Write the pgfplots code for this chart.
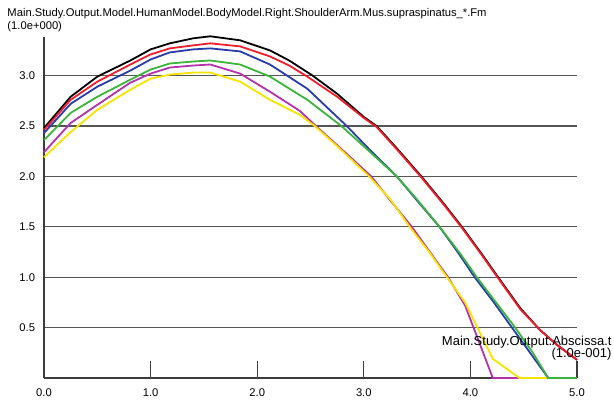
\documentclass[border=0pt]{standalone}
\usepackage{pgfplots}
\pgfplotsset{compat=1.18}
\usepackage{fontspec}
\setmainfont{Liberation Sans}

\definecolor{cblack}{RGB}{0,0,0}
\definecolor{cred}{RGB}{240,30,45}
\definecolor{cblue}{RGB}{40,60,170}
\definecolor{cgreen}{RGB}{60,180,60}
\definecolor{cmagenta}{RGB}{180,50,170}
\definecolor{cyellow}{RGB}{245,228,0}
\definecolor{gridcol}{RGB}{85,85,85}
\definecolor{axiscol}{RGB}{60,60,60}

\pgfplotstableread{
x y
0 2.48
0.25 2.79
0.5 2.99
0.81 3.15
1.0 3.26
1.18 3.32
1.4 3.37
1.56 3.39
1.84 3.35
2.12 3.25
2.3 3.15
2.52 3.00
2.75 2.82
3.0 2.59
3.12 2.50
3.3 2.29
3.54 2.00
3.75 1.73
3.92 1.50
4.1 1.24
4.26 1.00
4.47 0.69
4.65 0.48
4.81 0.33
5.0 0.18
}\tblack

\pgfplotstableread{
x y
0 2.46
0.25 2.76
0.5 2.94
0.81 3.11
1.0 3.21
1.18 3.27
1.4 3.30
1.56 3.32
1.84 3.29
2.12 3.19
2.3 3.10
2.47 2.99
2.75 2.79
3.0 2.58
3.12 2.49
3.3 2.28
3.54 1.99
3.75 1.72
3.92 1.49
4.1 1.23
4.26 0.99
4.47 0.68
4.65 0.48
4.81 0.33
5.0 0.18
}\tred

\pgfplotstableread{
x y
0 2.43
0.25 2.72
0.5 2.89
0.81 3.05
1.0 3.16
1.18 3.23
1.4 3.26
1.56 3.27
1.84 3.24
2.12 3.11
2.47 2.87
2.84 2.50
3.05 2.27
3.31 2.00
3.5 1.76
3.71 1.50
3.88 1.25
4.04 1.00
4.22 0.75
4.39 0.50
4.56 0.25
4.73 0
5.0 0
}\tblue

\pgfplotstableread{
x y
0 2.36
0.25 2.63
0.5 2.79
0.81 2.96
1.0 3.06
1.18 3.12
1.4 3.14
1.56 3.15
1.84 3.11
2.12 2.99
2.47 2.76
2.79 2.50
3.05 2.25
3.31 2.00
3.5 1.77
3.71 1.50
3.9 1.24
4.06 1.00
4.24 0.75
4.42 0.50
4.58 0.26
4.73 0
5.0 0
}\tgreen

\pgfplotstableread{
x y
0 2.24
0.25 2.53
0.5 2.71
0.81 2.93
1.0 3.02
1.18 3.08
1.4 3.10
1.56 3.11
1.84 3.02
2.12 2.84
2.40 2.65
2.55 2.50
2.75 2.31
3.07 2.00
3.25 1.76
3.45 1.50
3.62 1.25
3.79 1.00
3.95 0.72
4.21 0
5.0 0
}\tmagenta

\pgfplotstableread{
x y
0 2.19
0.25 2.44
0.5 2.66
0.81 2.86
1.0 2.97
1.18 3.01
1.4 3.03
1.56 3.03
1.84 2.94
2.12 2.76
2.40 2.61
2.54 2.50
2.75 2.30
3.05 2.00
3.25 1.77
3.43 1.50
3.62 1.24
3.78 1.00
3.95 0.75
4.21 0.19
4.46 0
5.0 0
}\tyellow

\begin{document}
\fontsize{11.2}{13}\selectfont
\begin{tikzpicture}
\path[use as bounding box] (-44pt,-29pt) rectangle (570pt,378pt);
\begin{axis}[
  at={(0pt,0pt)}, anchor=south west,
  scale only axis, width=533pt, height=341pt,
  xmin=0, xmax=5, ymin=0, ymax=3.383,
  axis x line=bottom, axis y line=left,
  axis line style={-, draw=axiscol, line width=1.1pt},
  xtick={0,1,2,3,4,5},
  ytick={0.5,1,1.5,2,2.5,3},
  tick align=inside,
  xtick style={draw=axiscol, line width=1.1pt, /pgfplots/major tick length=17pt},
  ytick style={draw=axiscol, line width=1.1pt, /pgfplots/major tick length=0pt},
  ymajorgrids,
  major grid style={draw=gridcol, line width=1.1pt},
  xticklabel style={/pgf/number format/fixed, /pgf/number format/fixed zerofill, /pgf/number format/precision=1, yshift=-6.5pt},
  yticklabel style={/pgf/number format/fixed, /pgf/number format/fixed zerofill, /pgf/number format/precision=1, xshift=-5pt},
  /pgf/number format/assume math mode=true,
  tick label style={font=\fontsize{11.2}{13}\selectfont},
  clip=false,
  every axis plot/.append style={line width=1.8pt, mark=none},
]
\addplot[cblack] table {\tblack};
\addplot[cred] table {\tred};
\addplot[cmagenta] table {\tmagenta};
\addplot[cyellow] table {\tyellow};
\addplot[cblue] table {\tblue};
\addplot[cgreen] table {\tgreen};
\end{axis}
\node[anchor=base west, inner sep=0pt] at (-36.7pt,361.3pt) {Main.Study.Output.Model.HumanModel.BodyModel.Right.ShoulderArm.Mus.supraspinatus\_*.Fm};
\node[anchor=base west, inner sep=0pt] at (-36.7pt,348.5pt) {(1.0e+000)};
\node[anchor=base east, inner sep=0pt, font=\fontsize{13}{15}\selectfont] at (567.7pt,32pt) {Main.Study.Output.Abscissa.t};
\node[anchor=base east, inner sep=0pt, font=\fontsize{13}{15}\selectfont] at (567.7pt,20pt) {(1.0e-001)};
\end{tikzpicture}
\end{document}
